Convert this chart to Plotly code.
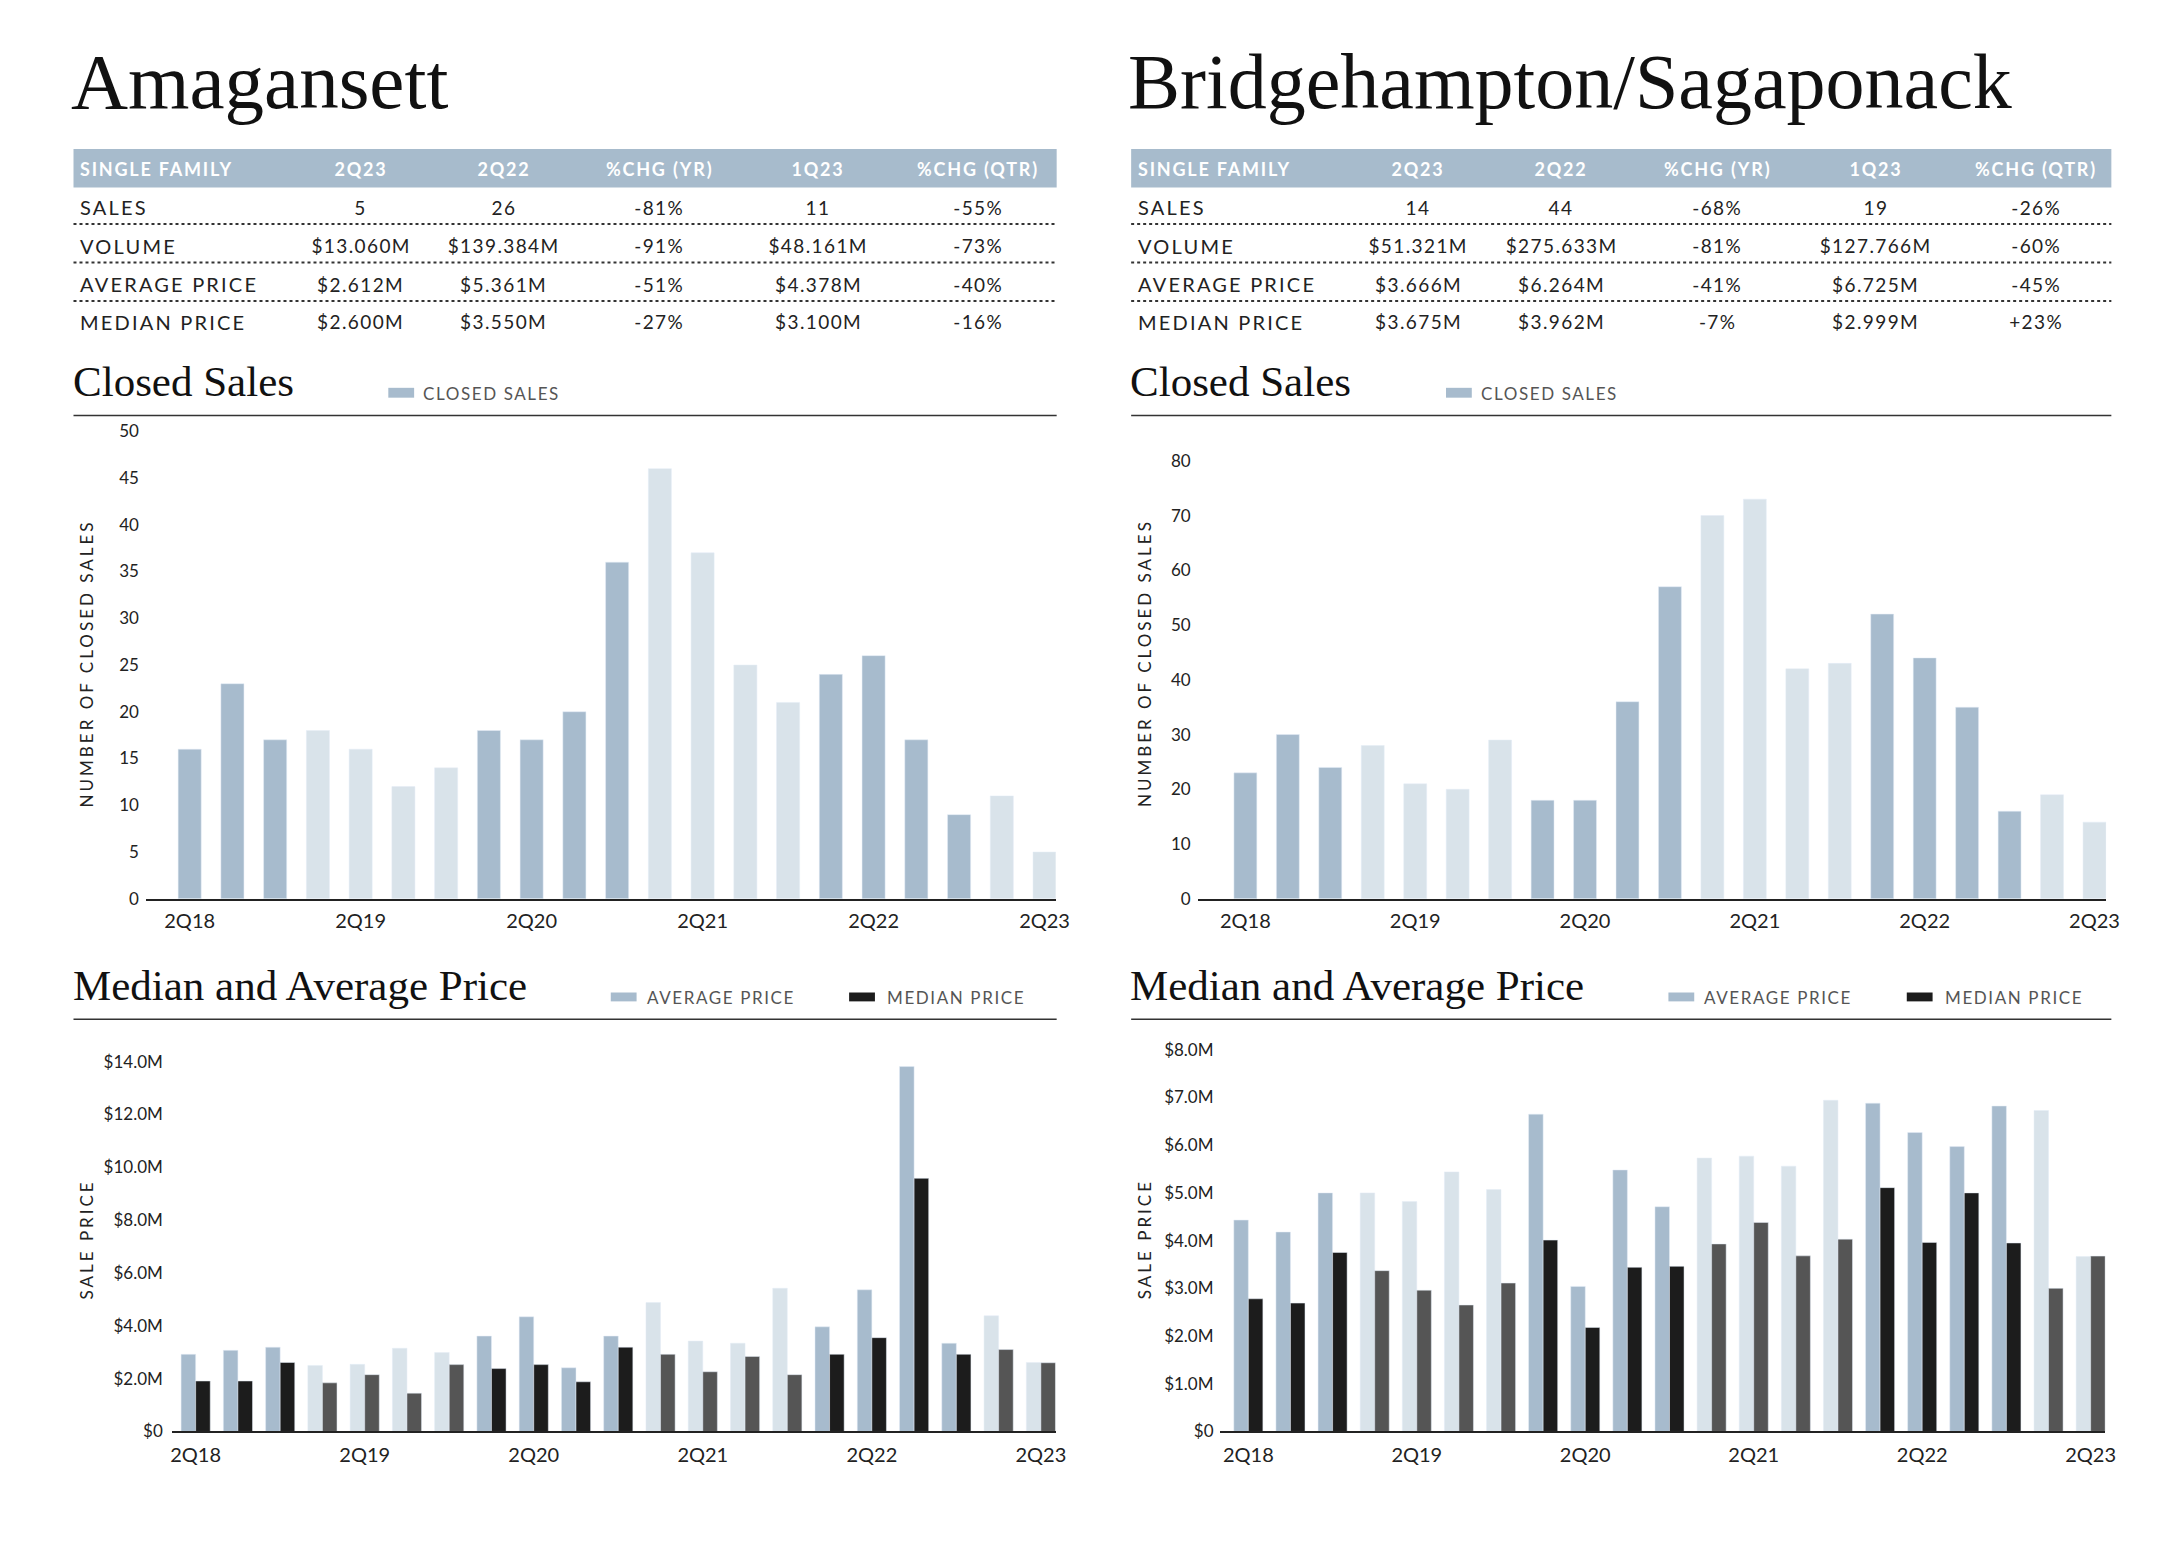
import json
import plotly.graph_objects as go

W, H = 2176, 1548

# ---------------- data ----------------
quarters = ["2Q18", "3Q18", "4Q18", "1Q19", "2Q19", "3Q19", "4Q19", "1Q20", "2Q20", "3Q20", "4Q20",
            "1Q21", "2Q21", "3Q21", "4Q21", "1Q22", "2Q22", "3Q22", "4Q22", "1Q23", "2Q23"]
tick_quarters = ["2Q18", "2Q19", "2Q20", "2Q21", "2Q22", "2Q23"]

ama_sales = [16, 23, 17, 18, 16, 12, 14, 18, 17, 20, 36, 46, 37, 25, 21, 24, 26, 17, 9, 11, 5]
bs_sales = [23, 30, 24, 28, 21, 20, 29, 18, 18, 36, 57, 70, 73, 42, 43, 52, 44, 35, 16, 19, 14]

ama_avg = [2.92, 3.07, 3.19, 2.50, 2.54, 3.15, 2.99, 3.61, 4.34, 2.41, 3.61, 4.88, 3.42, 3.34, 5.42,
           3.96, 5.361, 13.81, 3.34, 4.378, 2.612]
ama_med = [1.91, 1.91, 2.61, 1.84, 2.15, 1.45, 2.53, 2.38, 2.53, 1.88, 3.19, 2.92, 2.26, 2.84, 2.15,
           2.92, 3.55, 9.58, 2.92, 3.10, 2.60]
bs_avg = [4.43, 4.18, 5.00, 5.00, 4.82, 5.44, 5.07, 6.65, 3.04, 5.48, 4.71, 5.73, 5.77, 5.56, 6.94,
          6.88, 6.264, 5.97, 6.82, 6.725, 3.666]
bs_med = [2.78, 2.69, 3.75, 3.37, 2.96, 2.65, 3.11, 4.01, 2.18, 3.44, 3.46, 3.93, 4.38, 3.68, 4.03,
          5.11, 3.962, 5.00, 3.95, 2.999, 3.675]

sales_ticks_ama = [0, 5, 10, 15, 20, 25, 30, 35, 40, 45, 50]
sales_ticks_bs = [0, 10, 20, 30, 40, 50, 60, 70, 80]
price_ticks_ama = [0, 2, 4, 6, 8, 10, 12, 14]
price_ticks_ama_text = ["$0", "$2.0M", "$4.0M", "$6.0M", "$8.0M", "$10.0M", "$12.0M", "$14.0M"]
price_ticks_bs = [0, 1, 2, 3, 4, 5, 6, 7, 8]
price_ticks_bs_text = ["$0", "$1.0M", "$2.0M", "$3.0M", "$4.0M", "$5.0M", "$6.0M", "$7.0M", "$8.0M"]

table_header = ["SINGLE FAMILY", "2Q23", "2Q22", "%CHG (YR)", "1Q23", "%CHG (QTR)"]
row_labels = ["SALES", "VOLUME", "AVERAGE PRICE", "MEDIAN PRICE"]
ama_table = [["5", "26", "-81%", "11", "-55%"],
             ["$13.060M", "$139.384M", "-91%", "$48.161M", "-73%"],
             ["$2.612M", "$5.361M", "-51%", "$4.378M", "-40%"],
             ["$2.600M", "$3.550M", "-27%", "$3.100M", "-16%"]]
bs_table = [["14", "44", "-68%", "19", "-26%"],
            ["$51.321M", "$275.633M", "-81%", "$127.766M", "-60%"],
            ["$3.666M", "$6.264M", "-41%", "$6.725M", "-45%"],
            ["$3.675M", "$3.962M", "-7%", "$2.999M", "+23%"]]

# ---------------- style ----------------
AVG_DARK = "#a7bbcd"
AVG_LIGHT = "#d9e3ea"
MED_DARK = "#1c1c1c"
MED_LIGHT = "#555555"
HEADER_BG = "#a7bbcc"
SERIF = "Liberation Serif, Times New Roman, serif"
SANS = "Lato, Open Sans, sans-serif"
TXT = "#222222"


def X(px):
    return px / W


def Y(py):
    return 1 - py / H


def dark_year(q):
    return int(q[-2:]) % 2 == 0


sales_colors = [AVG_DARK if dark_year(q) else AVG_LIGHT for q in quarters]
med_colors = [MED_DARK if dark_year(q) else MED_LIGHT for q in quarters]

fig = go.Figure()

fig.add_trace(go.Bar(x=quarters, y=ama_sales, marker_color=sales_colors, width=0.54, offset=-0.27,
                     xaxis="x", yaxis="y", showlegend=False, hoverinfo="skip"))
fig.add_trace(go.Bar(x=quarters, y=bs_sales, marker_color=sales_colors, width=0.54, offset=-0.27,
                     xaxis="x2", yaxis="y2", showlegend=False, hoverinfo="skip"))
fig.add_trace(go.Bar(x=quarters, y=ama_avg, marker_color=sales_colors, width=0.345, offset=-0.345,
                     xaxis="x3", yaxis="y3", showlegend=False, hoverinfo="skip"))
fig.add_trace(go.Bar(x=quarters, y=ama_med, marker_color=med_colors, width=0.345, offset=0,
                     xaxis="x3", yaxis="y3", showlegend=False, hoverinfo="skip"))
fig.add_trace(go.Bar(x=quarters, y=bs_avg, marker_color=sales_colors, width=0.345, offset=-0.345,
                     xaxis="x4", yaxis="y4", showlegend=False, hoverinfo="skip"))
fig.add_trace(go.Bar(x=quarters, y=bs_med, marker_color=med_colors, width=0.345, offset=0,
                     xaxis="x4", yaxis="y4", showlegend=False, hoverinfo="skip"))


def xax(domain, rng, anchor, standoff):
    return dict(domain=[X(domain[0]), X(domain[1])], range=rng, type="category", anchor=anchor,
                categoryorder="array", categoryarray=quarters,
                tickmode="array", tickvals=tick_quarters, ticktext=tick_quarters,
                showline=True, linecolor="#222222", linewidth=1.5, ticks="",
                ticklabelstandoff=standoff,
                showgrid=False, zeroline=False, fixedrange=True,
                tickfont=dict(family=SANS, size=20, color=TXT))


def yax(anchor, bottom, top, rng, tv, tt, standoff):
    return dict(domain=[Y(bottom), Y(top)], range=rng, anchor=anchor,
                tickmode="array", tickvals=tv, ticktext=tt,
                showline=False, showgrid=False, zeroline=False, ticks="",
                ticklabelstandoff=standoff,
                fixedrange=True, tickfont=dict(family=SANS, size=17, color=TXT))


fig.update_layout(
    width=W, height=H, autosize=False,
    margin=dict(l=0, r=0, t=0, b=0),
    paper_bgcolor="white", plot_bgcolor="white",
    barmode="overlay",
    xaxis=xax((146, 1062), [-1.022, 20.26], "y", 3),
    xaxis2=xax((1205, 2120), [-1.123, 20.28], "y2", 3),
    xaxis3=xax((172, 1062), [-0.564, 20.35], "y3", 5),
    xaxis4=xax((1227, 2119), [-0.684, 20.35], "y4", 5),
    yaxis=yax("x", 900, 426, [0, 50], sales_ticks_ama, [str(v) for v in sales_ticks_ama], 6),
    yaxis2=yax("x2", 900, 456, [0, 80], sales_ticks_bs, [str(v) for v in sales_ticks_bs], 6),
    yaxis3=yax("x3", 1440, 1065, [0, 14], price_ticks_ama, price_ticks_ama_text, 8),
    yaxis4=yax("x4", 1440, 1053, [0, 8], price_ticks_bs, price_ticks_bs_text, 5),
)

shapes = []
ann = []
spacing = []


def text(x, y, s, size, family=SANS, color=TXT, xanchor="left", angle=0, weight="normal", ls=0):
    ann.append(dict(x=X(x), y=Y(y), xref="paper", yref="paper", text=s, showarrow=False,
                    xanchor=xanchor, yanchor="middle", align=xanchor, textangle=angle,
                    borderpad=0,
                    font=dict(family=family, size=size, color=color, weight=weight)))
    spacing.append(ls)


def rect(x0, y0, x1, y1, color):
    shapes.append(dict(type="rect", xref="paper", yref="paper", x0=X(x0), x1=X(x1),
                       y0=Y(y1), y1=Y(y0), fillcolor=color, line=dict(width=0), layer="below"))


def hline(x0, x1, y, color="#222222", width=1.5, dash="solid"):
    shapes.append(dict(type="line", xref="paper", yref="paper", x0=X(x0), x1=X(x1),
                       y0=Y(y), y1=Y(y), line=dict(color=color, width=width, dash=dash)))


columns = [
    dict(left=73, right=1063, title="Amagansett", tsize=79, table=ama_table),
    dict(left=1138, right=2125, title="Bridgehampton/Sagaponack", tsize=78, table=bs_table),
]

col_offsets = [289, 433, 590, 750, 911]
row_y = [199, 238, 277, 315]
dot_y = [216, 255, 294]

for c in columns:
    L, R = c["left"], c["right"]
    # Title
    text(L - 4, 71, c["title"], c["tsize"], family=SERIF, color="#111111")
    # Table header
    rect(L, 140, R, 179, HEADER_BG)
    text(L + 6, 160, table_header[0], 18, color="white", weight="bold", ls=1.8)
    for off, h in zip(col_offsets, table_header[1:]):
        text(L + off, 160, h, 18, color="white", xanchor="center", weight="bold", ls=1.8)
    for ry, lab, vals in zip(row_y, row_labels, c["table"]):
        text(L + 6, ry, lab, 20, ls=2.2)
        for off, v in zip(col_offsets, vals):
            text(L + off, ry, v, 19, xanchor="center", ls=1.4)
    for dy in dot_y:
        hline(L, R, dy, color="#333333", width=2, dash="dot")

    # Closed Sales header
    text(L - 2, 376, "Closed Sales", 43, family=SERIF, color="#111111")
    rect(L + 317, 382, L + 343, 392, AVG_DARK)
    text(L + 351, 388, "CLOSED SALES", 17, color="#555555", ls=1.6)
    hline(L, R, 410, color="#333333", width=1.5)
    text(L + 13, 661, "NUMBER OF CLOSED SALES", 17, xanchor="center", angle=-90, ls=3)

    # Median and Average Price header
    text(L - 2, 988, "Median and Average Price", 43, family=SERIF, color="#111111")
    rect(L + 541, 995, L + 567, 1004, AVG_DARK)
    text(L + 576, 1000, "AVERAGE PRICE", 17, color="#555555", ls=1.6)
    rect(L + 781, 995, L + 807, 1004, MED_DARK)
    text(L + 818, 1000, "MEDIAN PRICE", 17, color="#555555", ls=1.6)
    hline(L, R, 1022, color="#333333", width=1.5)
    text(L + 13, 1245, "SALE PRICE", 17, xanchor="center", angle=-90, ls=3)

fig.update_layout(shapes=shapes, annotations=ann)

post = (
    "document.body.style.margin='0';document.body.style.overflow='hidden';"
    "var sp=" + json.dumps(spacing) + ";"
    "document.querySelectorAll('g.annotation').forEach(function(g){"
    "var i=parseInt(g.getAttribute('data-index'));"
    "var t=g.querySelector('text.annotation-text');"
    "if(t && sp[i]){t.style.letterSpacing=sp[i]+'px';}});"
)

fig.write_html("out.html", config={"displayModeBar": False}, post_script=post)
